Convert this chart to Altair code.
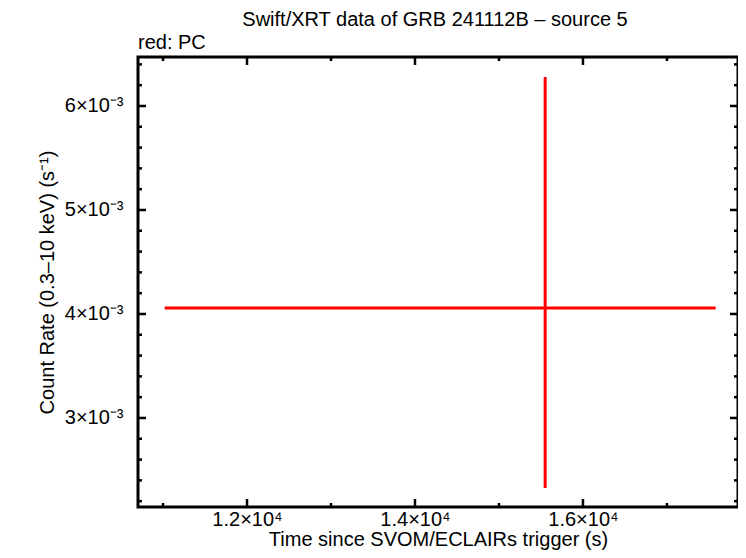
import altair as alt
import pandas as pd

# data point (PC mode)
time_center = [15550]
time_lo = [11020]
time_hi = [17580]
rate = [4.058e-3]
rate_lo = [2.327e-3]
rate_hi = [6.279e-3]

# axes
x_domain = [10702, 17846]
y_domain = [0.002144, 0.006471]
x_major = [12000, 14000, 16000]
x_minor = [11000, 13000, 15000, 17000]
y_major = [0.003, 0.004, 0.005, 0.006]
y_minor = [0.0022, 0.0024, 0.0026, 0.0028, 0.0032, 0.0034, 0.0036, 0.0038,
           0.0042, 0.0044, 0.0046, 0.0048, 0.0052, 0.0054, 0.0056, 0.0058,
           0.0062, 0.0064]

title_text = ["Swift/XRT data of GRB 241112B – source 5"]
legend_text = ["red: PC"]

W, H = 600, 450
FONT = "Liberation Sans"
FS = 20

df = pd.DataFrame({"t": time_center, "tlo": time_lo, "thi": time_hi,
                   "r": rate, "rlo": rate_lo, "rhi": rate_hi})

xs = alt.Scale(domain=x_domain, nice=False, zero=False)
ys = alt.Scale(domain=y_domain, nice=False, zero=False)

x_axis = alt.Axis(values=x_major, ticks=False, domain=False, grid=False,
                  labelExpr="format(datum.value/10000,'.1f') + '×10⁴'",
                  labelFontSize=FS, labelPadding=2, titleFontSize=FS,
                  titlePadding=0, labelColor="black", titleColor="black",
                  titleFontWeight="normal", labelFont=FONT, titleFont=FONT,
                  title="Time since SVOM/ECLAIRs trigger (s)")
y_axis = alt.Axis(values=y_major, ticks=False, domain=False, grid=False,
                  labelExpr="format(datum.value*1000,'d') + '×10⁻³'",
                  labelFontSize=FS, labelPadding=15, titleFontSize=FS,
                  titlePadding=7, labelColor="black", titleColor="black",
                  titleFontWeight="normal", labelFont=FONT, titleFont=FONT,
                  title="Count Rate (0.3–10 keV) (s⁻¹)")

hbar = alt.Chart(df).mark_rule(color="#ff0000", strokeWidth=3).encode(
    x=alt.X("tlo:Q", scale=xs, axis=x_axis), x2="thi:Q",
    y=alt.Y("r:Q", scale=ys, axis=y_axis))
vbar = alt.Chart(df).mark_rule(color="#ff0000", strokeWidth=3).encode(
    x=alt.X("t:Q", scale=xs, axis=x_axis), y=alt.Y("rlo:Q", scale=ys, axis=y_axis),
    y2="rhi:Q")


def xticks(vals, length):
    d = pd.DataFrame({"v": vals})
    bot = alt.Chart(d).mark_rule(color="black", strokeWidth=2.5).encode(
        x=alt.X("v:Q", scale=xs, axis=x_axis), y=alt.value(H), y2=alt.value(H - length))
    top = alt.Chart(d).mark_rule(color="black", strokeWidth=2.5).encode(
        x=alt.X("v:Q", scale=xs, axis=x_axis), y=alt.value(0), y2=alt.value(length))
    return [bot, top]


def yticks(vals, length):
    d = pd.DataFrame({"v": vals})
    left = alt.Chart(d).mark_rule(color="black", strokeWidth=2.5).encode(
        y=alt.Y("v:Q", scale=ys, axis=y_axis), x=alt.value(0), x2=alt.value(length))
    right = alt.Chart(d).mark_rule(color="black", strokeWidth=2.5).encode(
        y=alt.Y("v:Q", scale=ys, axis=y_axis), x=alt.value(W), x2=alt.value(W - length))
    return [left, right]


label = alt.Chart(pd.DataFrame({"s": legend_text})).mark_text(
    align="left", baseline="alphabetic", fontSize=FS, font=FONT, color="black"
).encode(text="s:N", x=alt.value(0), y=alt.value(-8))

title = alt.Chart(pd.DataFrame({"s": title_text})).mark_text(
    align="center", baseline="alphabetic", fontSize=FS, font=FONT, color="black"
).encode(text="s:N", x=alt.value(297), y=alt.value(-31))

layers = [hbar, vbar] + xticks(x_major, 8) + xticks(x_minor, 4) \
    + yticks(y_major, 8) + yticks(y_minor, 4) + [label, title]

chart = alt.layer(*layers).properties(
    width=W, height=H,
    autosize=alt.AutoSizeParams(type="none"),
    padding={"left": 130, "top": 49, "right": 0, "bottom": 43},
).configure(font=FONT).configure_view(stroke="black", strokeWidth=3)

chart.save("out.html", embed_options={"renderer": "svg", "actions": False})
